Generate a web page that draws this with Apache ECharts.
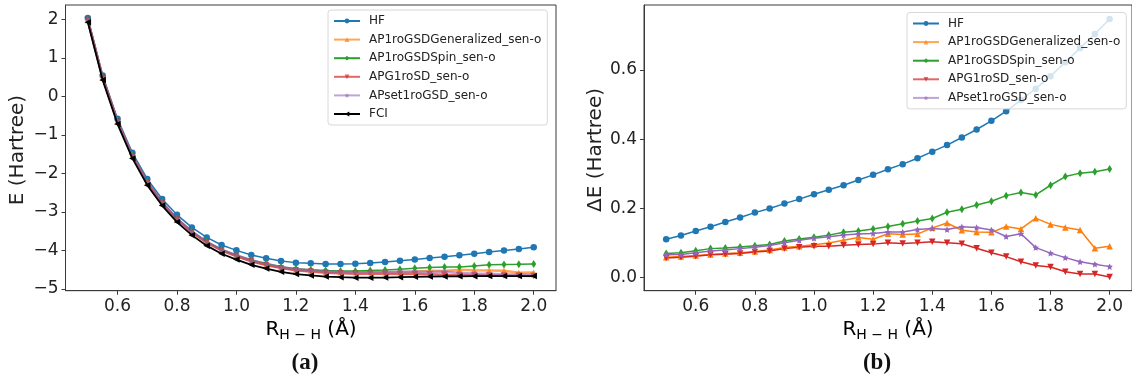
<!DOCTYPE html>
<html>
<head>
<meta charset="utf-8">
<script src="https://cdn.jsdelivr.net/npm/echarts@6/dist/echarts.min.js"></script>
<style>
html,body{margin:0;padding:0;background:#fff;overflow:hidden;}
#chart{width:1132px;height:383px;}
</style>
</head>
<body>
<div id="chart"></div>
<script>
// ---- data ----
const R = [0.5,0.55,0.6,0.65,0.7,0.75,0.8,0.85,0.9,0.95,1.0,1.05,1.1,1.15,1.2,1.25,1.3,1.35,1.4,1.45,1.5,1.55,1.6,1.65,1.7,1.75,1.8,1.85,1.9,1.95,2.0];

// (a) total energies (Hartree)
const E_HF = [2.034,0.543,-0.586,-1.466,-2.147,-2.664,-3.078,-3.405,-3.664,-3.862,-4.000,-4.121,-4.207,-4.276,-4.319,-4.338,-4.353,-4.353,-4.345,-4.328,-4.302,-4.270,-4.235,-4.200,-4.164,-4.128,-4.089,-4.046,-4.004,-3.964,-3.922];
const E_GEN = [1.982,0.482,-0.657,-1.546,-2.238,-2.766,-3.190,-3.525,-3.791,-3.998,-4.146,-4.275,-4.366,-4.442,-4.505,-4.524,-4.556,-4.572,-4.565,-4.553,-4.570,-4.566,-4.557,-4.533,-4.536,-4.502,-4.517,-4.523,-4.529,-4.583,-4.578];
const E_SPIN = [1.993,0.493,-0.643,-1.529,-2.222,-2.749,-3.174,-3.509,-3.772,-3.977,-4.124,-4.252,-4.343,-4.423,-4.475,-4.503,-4.525,-4.534,-4.538,-4.522,-4.509,-4.488,-4.467,-4.444,-4.431,-4.435,-4.404,-4.376,-4.365,-4.362,-4.355];
const E_APG = [1.980,0.480,-0.659,-1.547,-2.240,-2.768,-3.192,-3.528,-3.794,-4.001,-4.150,-4.284,-4.380,-4.462,-4.519,-4.550,-4.582,-4.597,-4.605,-4.610,-4.609,-4.613,-4.616,-4.620,-4.631,-4.639,-4.640,-4.651,-4.656,-4.657,-4.667];
const E_SET = [1.989,0.488,-0.649,-1.536,-2.228,-2.754,-3.178,-3.512,-3.777,-3.981,-4.127,-4.257,-4.351,-4.432,-4.488,-4.519,-4.549,-4.559,-4.567,-4.572,-4.560,-4.553,-4.550,-4.562,-4.550,-4.587,-4.600,-4.610,-4.621,-4.629,-4.637];
const E_FCI = [1.923,0.421,-0.721,-1.613,-2.308,-2.838,-3.266,-3.605,-3.878,-4.089,-4.241,-4.375,-4.474,-4.558,-4.616,-4.651,-4.681,-4.698,-4.709,-4.711,-4.707,-4.698,-4.688,-4.681,-4.677,-4.674,-4.671,-4.668,-4.667,-4.668,-4.669];

// (b) errors relative to FCI (Hartree)
const D_HF = [0.111,0.122,0.135,0.147,0.161,0.174,0.188,0.200,0.214,0.227,0.241,0.254,0.267,0.282,0.297,0.313,0.328,0.345,0.364,0.383,0.405,0.428,0.453,0.481,0.513,0.546,0.582,0.622,0.663,0.704,0.747];
const D_GEN = [0.059,0.061,0.064,0.067,0.070,0.072,0.076,0.080,0.087,0.091,0.095,0.100,0.108,0.116,0.111,0.127,0.125,0.126,0.144,0.158,0.137,0.132,0.131,0.148,0.141,0.172,0.154,0.145,0.138,0.085,0.091];
const D_SPIN = [0.070,0.072,0.078,0.084,0.086,0.089,0.092,0.096,0.106,0.112,0.117,0.123,0.131,0.135,0.141,0.148,0.156,0.164,0.171,0.189,0.198,0.210,0.221,0.237,0.246,0.239,0.267,0.292,0.302,0.306,0.314];
const D_APG = [0.057,0.059,0.062,0.066,0.068,0.070,0.074,0.077,0.084,0.088,0.091,0.091,0.094,0.096,0.097,0.101,0.099,0.101,0.104,0.101,0.098,0.085,0.072,0.061,0.046,0.035,0.031,0.017,0.011,0.011,0.002];
const D_SET = [0.066,0.067,0.072,0.077,0.080,0.084,0.088,0.093,0.101,0.108,0.114,0.118,0.123,0.126,0.128,0.132,0.132,0.139,0.142,0.139,0.147,0.145,0.138,0.119,0.127,0.087,0.071,0.058,0.046,0.039,0.032];

const NAMES = ['HF','AP1roGSDGeneralized_sen-o','AP1roGSDSpin_sen-o','APG1roSD_sen-o','APset1roGSD_sen-o','FCI'];
const X_TICKS = [0.6,0.8,1.0,1.2,1.4,1.6,1.8,2.0];
const YA_TICKS = [-5,-4,-3,-2,-1,0,1,2];
const YB_TICKS = [0.0,0.2,0.4,0.6];

// ---- styling ----
const COLORS = ['#1f77b4','#ff7f0e','#2ca02c','#d62728','#9467bd','#000000'];
const STAR = 'path://M0,-10 L2.9,-4 L9.5,-3.1 L4.7,1.5 L5.9,8.1 L0,5 L-5.9,8.1 L-4.7,1.5 L-9.5,-3.1 L-2.9,-4 Z';
const THIN_DIAMOND = 'path://M0,-10 L6,0 L0,10 L-6,0 Z';
const SYM = [
  {symbol:'circle', symbolSize:6.5, symbolRotate:0},
  {symbol:'triangle', symbolSize:6.5, symbolRotate:0},
  {symbol:THIN_DIAMOND, symbolSize:[5,8], symbolRotate:0},
  {symbol:'triangle', symbolSize:6.5, symbolRotate:180},
  {symbol:STAR, symbolSize:6.5, symbolRotate:0},
  {symbol:'triangle', symbolSize:6.5, symbolRotate:90}
];
const FONT = 'DejaVu Sans';
const AX = '#3a3a3a';

function pts(ys){ return R.map((x,i)=>[x, ys[i]]); }

function mk(idx, ys, gi, opts){
  opts = opts || {};
  return Object.assign({
    name: NAMES[idx], type:'line', xAxisIndex:gi, yAxisIndex:gi,
    data: pts(ys),
    color: COLORS[idx],
    lineStyle:{width: opts.w || 1.5, color: COLORS[idx], opacity: opts.op || 1},
    itemStyle:{color: COLORS[idx], opacity: opts.op || 1},
    showSymbol:true, animation:false, z: opts.z || 2,
    emphasis:{disabled:true}
  }, SYM[idx]);
}

function xAxis(gi){
  return {
    type:'value', gridIndex:gi, min:0.425, max:2.075,
    axisLine:{show:true, onZero:false, lineStyle:{color:AX, width:1}},
    axisTick:{show:true, length:4, lineStyle:{color:AX}, customValues:X_TICKS},
    axisLabel:{customValues:X_TICKS, formatter:v=>v.toFixed(1), fontFamily:FONT, fontSize:17, color:'#222', margin:7},
    splitLine:{show:false}
  };
}
function yAxis(gi, mn, mx, ticks, fmt){
  return {
    type:'value', gridIndex:gi, min:mn, max:mx,
    axisLine:{show:true, onZero:false, lineStyle:{color:AX, width:1}},
    axisTick:{show:true, length:4, lineStyle:{color:AX}, customValues:ticks},
    axisLabel:{customValues:ticks, formatter:fmt, fontFamily:FONT, fontSize:17, color:'#222', margin:7},
    splitLine:{show:false}
  };
}

function legend(gi, left, top, names){
  return {
    show:true, orient:'vertical', left:left, top:top,
    data: names.map(n=>({name:n})),
    itemWidth:26, itemHeight:6, itemGap:4.6,
    padding:[4,6,4,5],
    backgroundColor:'rgba(255,255,255,0.8)', borderColor:'#d8d8d8', borderWidth:1, borderRadius:3,
    textStyle:{fontFamily:FONT, fontSize:12, color:'#222', lineHeight:14, padding:[0,0,0,4]},
    selectedMode:false, z:10
  };
}

const chart = echarts.init(document.getElementById('chart'), null, {renderer:'canvas'});

const series = [
  mk(0, E_HF, 0, {}),
  mk(1, E_GEN, 0, {w:2.5, op:0.7}),
  mk(2, E_SPIN, 0, {}),
  mk(3, E_APG, 0, {w:2.5, op:0.7}),
  mk(4, E_SET, 0, {w:2.5, op:0.6}),
  mk(5, E_FCI, 0, {w:1.8, z:3}),
  mk(0, D_HF, 1, {}),
  mk(1, D_GEN, 1, {}),
  mk(2, D_SPIN, 1, {}),
  mk(3, D_APG, 1, {}),
  mk(4, D_SET, 1, {})
];

const xlabelRich = {
  r:{fontFamily:FONT, fontSize:20, color:'#222', verticalAlign:'top', lineHeight:22},
  s:{fontFamily:FONT, fontSize:14, color:'#222', verticalAlign:'bottom', lineHeight:14}
};

chart.setOption({
  animation:false,
  backgroundColor:'#ffffff',
  grid:[
    {left:65.5, top:5, width:490.5, height:285.7, show:true, borderColor:AX, borderWidth:1, backgroundColor:'transparent'},
    {left:644, top:5, width:493, height:285.7, show:true, borderColor:AX, borderWidth:1, backgroundColor:'transparent'}
  ],
  xAxis:[xAxis(0), Object.assign(xAxis(1), {max:2.0 + 0.075 * 493 / 489})],
  yAxis:[
    yAxis(0, -5.048, 2.371, YA_TICKS, v=>String(Math.round(v)).replace('-', '\u2212')),
    yAxis(1, -0.0375, 0.7875, YB_TICKS, v=>v.toFixed(1))
  ],
  legend:[
    legend(0, 328, 10, NAMES),
    legend(1, 907, 12.5, NAMES.slice(0,5))
  ],
  series: series,
  graphic:[
    {type:'text', x:18, y:150, rotation:Math.PI/2,
      style:{text:'E (Hartree)', fontFamily:FONT, fontSize:20, fill:'#222', align:'center', verticalAlign:'middle'}},
    {type:'text', x:596, y:150, rotation:Math.PI/2,
      style:{text:'\u0394E (Hartree)', fontFamily:FONT, fontSize:20, fill:'#222', align:'center', verticalAlign:'middle'}},
    {type:'text', x:311, y:331,
      style:{text:'{r|R}{s|H \u2212 H}{r| (\u00c5)}', rich:xlabelRich, align:'center', verticalAlign:'middle'}},
    {type:'text', x:888, y:331,
      style:{text:'{r|R}{s|H \u2212 H}{r| (\u00c5)}', rich:xlabelRich, align:'center', verticalAlign:'middle'}},
    {type:'text', x:305, y:363,
      style:{text:'(a)', fontFamily:'Liberation Serif', fontWeight:'bold', fontSize:23, fill:'#111', align:'center', verticalAlign:'middle'}},
    {type:'text', x:877, y:363,
      style:{text:'(b)', fontFamily:'Liberation Serif', fontWeight:'bold', fontSize:23, fill:'#111', align:'center', verticalAlign:'middle'}}
  ]
});
</script>
</body>
</html>
